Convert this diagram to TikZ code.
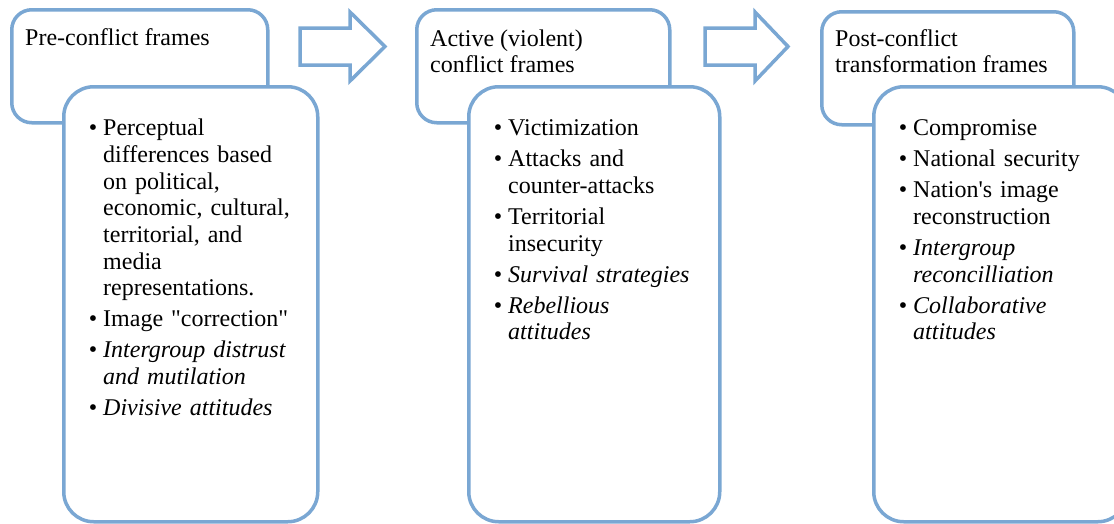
\documentclass[tikz,border=0pt]{standalone}
\usepackage{fontspec}
\setmainfont{Liberation Serif}[Ligatures=TeXOff]
\usepackage{xcolor}

\definecolor{frameblue}{RGB}{122,167,211}

% bullet list used inside the lower boxes
\newenvironment{framelist}{%
  \begin{list}{\textbullet}{%
    \setlength{\leftmargin}{15pt}%
    \setlength{\labelsep}{6pt}%
    \setlength{\labelwidth}{9pt}%
    \setlength{\itemsep}{4.3pt}%
    \setlength{\parsep}{0pt}%
    \setlength{\topsep}{0pt}%
    \setlength{\partopsep}{0pt}}}%
  {\end{list}}

\begin{document}
\begin{tikzpicture}[x=1pt, y=-1pt,
    headbox/.style={draw=frameblue, line width=3.5pt, fill=white, rounded corners=20pt,
        anchor=north west, inner sep=0pt, minimum width=256pt, minimum height=113pt},
    listbox/.style={draw=frameblue, line width=3.5pt, fill=white, rounded corners=30pt,
        anchor=north west, inner sep=0pt, minimum width=254pt, minimum height=435pt},
    blockarrow/.style={draw=frameblue, line width=3.5pt, fill=white, line join=miter},
    titletext/.style={anchor=base west, inner sep=0pt, align=left,
        font=\fontsize{24pt}{26pt}\selectfont},
    itemtext/.style={anchor=base west, inner sep=0pt, text width=225pt, align=left,
        font=\fontsize{24pt}{26.7pt}\selectfont}]
    \clip (0, 0) rectangle (1114, 523);

    % Panel 1: pre-conflict
    \node [headbox] (head1) at (10, 8) {};
    \node [titletext] (title1) at (25, 45) {Pre-conflict frames};
    \node [listbox] (list1) at (62, 85) {};
    \node [itemtext] (items1) at (88, 109) {%
        \begin{framelist}
        \item Perceptual\\ differences based\\ on political,\\ economic, cultural,\\ territorial, and\\ media\\ representations.
        \item Image "correction"
        \item \textit{Intergroup distrust\\ and mutilation}
        \item \textit{Divisive attitudes}
        \end{framelist}};

    % Arrow 1
    \draw [blockarrow] (300, 28) -- (350, 28) -- (350, 12) -- (385, 46.5)
        -- (350, 81) -- (350, 65) -- (300, 65) -- cycle;

    % Panel 2: active conflict
    \begin{scope}[xshift=405pt]
        \node [headbox, minimum width=253pt] (head2) at (10, 8) {};
        \node [titletext] (title2) at (25, 72) {Active (violent)\\ conflict frames};
        \node [listbox, minimum width=251pt] (list2) at (62, 85) {};
        \node [itemtext] (items2) at (88, 109) {%
            \begin{framelist}
            \item Victimization
            \item Attacks and\\ counter-attacks
            \item Territorial\\ insecurity
            \item \textit{Survival strategies}
            \item \textit{Rebellious\\ attitudes}
            \end{framelist}};

        % Arrow 2
        \draw [blockarrow] (300, 28) -- (350, 28) -- (350, 12) -- (383, 46.5)
            -- (350, 81) -- (350, 65) -- (300, 65) -- cycle;
    \end{scope}

    % Panel 3: post-conflict
    \begin{scope}[xshift=810pt]
        \node [headbox, minimum width=252pt] (head3) at (10, 10) {};
        \node [titletext] (title3) at (25, 72) {Post-conflict\\ transformation frames};
        \node [listbox] (list3) at (62, 85) {};
        \node [itemtext] (items3) at (88, 109) {%
            \begin{framelist}
            \item Compromise
            \item National security
            \item Nation's image\\ reconstruction
            \item \textit{Intergroup\\ reconcilliation}
            \item \textit{Collaborative\\ attitudes}
            \end{framelist}};
    \end{scope}
\end{tikzpicture}
\end{document}
